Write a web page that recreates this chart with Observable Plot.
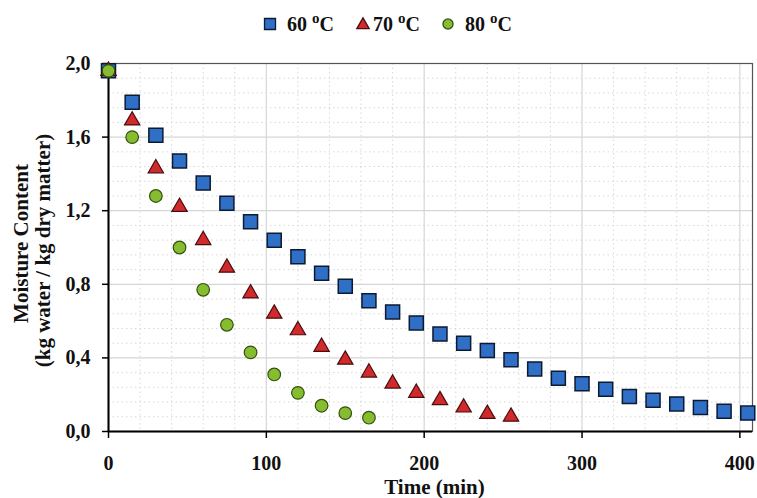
<!DOCTYPE html>
<html><head><meta charset="utf-8">
<script src="https://cdn.jsdelivr.net/npm/d3@7"></script>
<script src="https://cdn.jsdelivr.net/npm/@observablehq/plot@0.6"></script>
<style>
body{margin:0;background:#fff;}
svg{display:block}
</style></head><body>
<div id="legend"></div>
<div id="chart"></div>
<script>
// ---- data ----
const temps = ["60", "70", "80"];
const time60 = [0,15,30,45,60,75,90,105,120,135,150,165,180,195,210,225,240,255,270,285,300,315,330,345,360,375,390,405];
const mc60 = [1.96,1.79,1.61,1.47,1.35,1.24,1.14,1.04,0.95,0.86,0.79,0.71,0.65,0.59,0.53,0.48,0.44,0.39,0.34,0.29,0.26,0.23,0.19,0.17,0.15,0.13,0.11,0.10];
const time70 = [0,15,30,45,60,75,90,105,120,135,150,165,180,195,210,225,240,255];
const mc70 = [1.96,1.69,1.43,1.22,1.04,0.89,0.75,0.64,0.55,0.46,0.39,0.32,0.26,0.21,0.17,0.13,0.095,0.08];
const time80 = [0,15,30,45,60,75,90,105,120,135,150,165];
const mc80 = [1.96,1.60,1.28,1.00,0.77,0.58,0.43,0.31,0.21,0.14,0.10,0.075];
const xTicks = [0,100,200,300,400];
const xMinor = [20,40,60,80,120,140,160,180,220,240,260,280,320,340,360,380];
const yTicks = [0,0.4,0.8,1.2,1.6,2.0];
const yMinor = [0.08,0.16,0.24,0.32,0.48,0.56,0.64,0.72,0.88,0.96,1.04,1.12,1.28,1.36,1.44,1.52,1.68,1.76,1.84,1.92];

const colors = ["#2f6fc6", "#d02a2c", "#86bd30"];
const strokes = ["#0c1a33", "#4a0c0c", "#34500e"];
const symbols = ["square", "triangle", "circle"];

const d60 = time60.map((t, i) => ({t, m: mc60[i]}));
const d70 = time70.map((t, i) => ({t, m: mc70[i]}));
const d80 = time80.map((t, i) => ({t, m: mc80[i]}));

// ---- legend ----
const d3sym = {square: d3.symbolSquare, triangle: d3.symbolTriangle, circle: d3.symbolCircle};
const legSizes = [121, 66, 80];
const legMarkX = [270, 363, 448];
const legTextX = [287, 373, 465];
const leg = d3.create("svg").attr("width", 757).attr("height", 40);
temps.forEach((tp, i) => {
  leg.append("path")
    .attr("transform", `translate(${legMarkX[i]},${i === 1 ? 25 : 24})`)
    .attr("d", d3.symbol(d3sym[symbols[i]], legSizes[i])())
    .attr("fill", colors[i]).attr("stroke", strokes[i]).attr("stroke-width", 1.3);
  const t = leg.append("text").attr("x", legTextX[i]).attr("y", 31)
    .attr("font-family", "Liberation Serif").attr("font-weight", "bold").attr("font-size", 20).attr("fill", "#111");
  t.append("tspan").text(tp + " ");
  t.append("tspan").attr("dy", -8).attr("font-size", 15).text("o");
  t.append("tspan").attr("dy", 8).text("C");
});
document.getElementById("legend").appendChild(leg.node());

// ---- chart ----
const fmt = d => d.toFixed(1).replace(".", ",");
const chart = Plot.plot({
  width: 757,
  height: 458,
  marginTop: 23,
  marginBottom: 67,
  marginLeft: 108,
  marginRight: 5,
  style: {fontFamily: "Liberation Serif", background: "#fff", overflow: "visible", color: "#111"},
  x: {domain: [0, 408]},
  y: {domain: [0, 2.0]},
  marks: [
    Plot.ruleY(yMinor, {stroke: "#d8d8d8", strokeDasharray: "1.5,3"}),
    Plot.ruleX(xMinor, {stroke: "#d8d8d8", strokeDasharray: "1.5,3"}),
    Plot.ruleY(yTicks, {stroke: "#d6d6d6", strokeWidth: 1.2}),
    Plot.ruleX(xTicks, {stroke: "#d6d6d6", strokeWidth: 1.2}),
    Plot.frame({stroke: "#555", strokeWidth: 1.2}),
    Plot.ruleX([0], {stroke: "#000", strokeWidth: 2}),
    Plot.ruleY([0], {stroke: "#000", strokeWidth: 2}),
    Plot.axisX({ticks: xTicks, tickFormat: d => String(d), tickSize: 7, tickPadding: 17, stroke: "#000", strokeWidth: 1.5, fontSize: 20, fontWeight: "bold", label: null}),
    Plot.axisY({ticks: yTicks, tickFormat: fmt, tickSize: 6, tickPadding: 12, stroke: "#000", strokeWidth: 1.5, fontSize: 20, fontWeight: "bold", label: null}),
    Plot.dot(d60, {x: "t", y: "m", symbol: "square", r: 7.9, fill: colors[0], stroke: strokes[0], strokeWidth: 1.5}),
    Plot.dot(d70, {x: "t", y: "m", symbol: "triangle", r: 5.7, fill: colors[1], stroke: strokes[1], strokeWidth: 1.2}),
    Plot.dot(d80, {x: "t", y: "m", symbol: "circle", r: 6.3, fill: colors[2], stroke: strokes[2], strokeWidth: 1.2}),
    Plot.text(["Time (min)"], {frameAnchor: "bottom", text: d => d, dx: 4, dy: 56, lineAnchor: "middle", fontSize: 21, fontWeight: "bold", fill: "#111"}),
    Plot.text(["Moisture Content"], {frameAnchor: "left", text: d => d, dx: -87, dy: -4, rotate: -90, textAnchor: "middle", lineAnchor: "middle", fontSize: 21, fontWeight: "bold", fill: "#111"}),
    Plot.text(["(kg water / kg dry matter)"], {frameAnchor: "left", text: d => d, dx: -65, dy: 3, rotate: -90, textAnchor: "middle", lineAnchor: "middle", fontSize: 21, fontWeight: "bold", fill: "#111", ariaLabel: "ytitle2"})
  ]
});
d3.select(chart).selectAll('g[aria-label="ytitle2"] text').style("letter-spacing", "2px").style("word-spacing", "4px");
document.getElementById("chart").appendChild(chart);
</script>
</body></html>
